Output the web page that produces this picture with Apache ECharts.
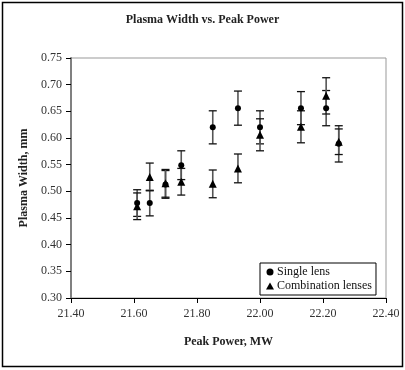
<!DOCTYPE html>
<html>
<head>
<meta charset="utf-8">
<script src="https://cdn.jsdelivr.net/npm/echarts@6/dist/echarts.min.js"></script>
<style>
  html, body { margin: 0; padding: 0; background: #fff; }
  #chart { width: 405px; height: 370px; }
</style>
</head>
<body>
<div id="chart"></div>
<script>
// peak power, MW
var power = [21.61, 21.65, 21.70, 21.75, 21.85, 21.93, 22.00, 22.13, 22.21, 22.25];
// plasma width, mm (single lens) and its error
var singleLens = [0.478, 0.478, 0.513, 0.549, 0.620, 0.656, 0.620, 0.656, 0.656, 0.589];
var singleErr = [0.025, 0.024, 0.026, 0.027, 0.031, 0.032, 0.031, 0.031, 0.033, 0.034];
// plasma width, mm (combination lenses) and its error
var comboLens = [0.472, 0.527, 0.515, 0.518, 0.514, 0.543, 0.606, 0.621, 0.679, 0.593];
var comboErr = [0.025, 0.026, 0.026, 0.025, 0.026, 0.027, 0.030, 0.030, 0.034, 0.024];

var serif = '"Liberation Serif", "DejaVu Serif", serif';

var chart = echarts.init(document.getElementById('chart'));

function points(ys) {
    return power.map(function (x, i) { return [x, ys[i]]; });
}
function errRows(ys, errs) {
    return power.map(function (x, i) { return [x, ys[i] - errs[i], ys[i] + errs[i]]; });
}

// draws a vertical error bar with caps
function renderErr(params, api) {
    var lo = api.coord([api.value(0), api.value(1)]);
    var hi = api.coord([api.value(0), api.value(2)]);
    var w = 4;
    return {
        type: 'group',
        children: [
            { type: 'line', shape: { x1: lo[0], y1: lo[1], x2: hi[0], y2: hi[1] },
              style: { stroke: '#555', lineWidth: 1.6 } },
            { type: 'line', shape: { x1: lo[0] - w, y1: lo[1], x2: lo[0] + w, y2: lo[1] },
              style: { stroke: '#111', lineWidth: 1.3 } },
            { type: 'line', shape: { x1: hi[0] - w, y1: hi[1], x2: hi[0] + w, y2: hi[1] },
              style: { stroke: '#111', lineWidth: 1.3 } }
        ]
    };
}

var option = {
    animation: false,
    backgroundColor: '#fff',
    title: {
        text: 'Plasma Width vs. Peak Power',
        left: 'center',
        top: 9,
        textStyle: { fontFamily: serif, fontSize: 12, fontWeight: 'bold', color: '#222' }
    },
    grid: {
        left: 71, right: 19, top: 58, bottom: 72,
        show: true, borderColor: '#999', borderWidth: 1
    },
    xAxis: {
        type: 'value',
        min: 21.4, max: 22.4, interval: 0.2,
        name: 'Peak Power, MW',
        nameLocation: 'middle',
        nameGap: 38,
        nameTextStyle: { fontFamily: serif, fontSize: 12, fontWeight: 'bold', color: '#222' },
        axisLine: { lineStyle: { color: '#000', width: 1 } },
        axisTick: { show: true, inside: false, length: 5, lineStyle: { color: '#000' } },
        axisLabel: {
            fontFamily: serif, fontSize: 12, color: '#333', margin: 10,
            formatter: function (v) { return v.toFixed(2); }
        },
        splitLine: { show: false }
    },
    yAxis: {
        type: 'value',
        min: 0.3, max: 0.75, interval: 0.05,
        name: 'Plasma Width, mm',
        nameLocation: 'middle',
        nameGap: 38,
        nameTextStyle: { fontFamily: serif, fontSize: 12, fontWeight: 'bold', color: '#222' },
        axisLine: { show: true, lineStyle: { color: '#808080', width: 2 } },
        axisTick: { show: true, inside: false, length: 5, lineStyle: { color: '#000' } },
        axisLabel: {
            fontFamily: serif, fontSize: 12, color: '#333', margin: 9,
            formatter: function (v) { return v.toFixed(2); }
        },
        splitLine: { show: false }
    },
    legend: {
        orient: 'vertical',
        left: 260, top: 263,
        width: 117,
        padding: [3, 4, 3, 6],
        itemGap: 2,
        itemWidth: 8, itemHeight: 7,
        borderColor: '#000', borderWidth: 1,
        backgroundColor: '#fff',
        textStyle: { fontFamily: serif, fontSize: 12, color: '#111', padding: [0, 0, 0, -2] },
        data: [
            { name: 'Single lens', icon: 'circle' },
            { name: 'Combination lenses', icon: 'triangle' }
        ]
    },
    series: [
        {
            name: 'singleErr', type: 'custom', renderItem: renderErr,
            data: errRows(singleLens, singleErr), silent: true, z: 2
        },
        {
            name: 'comboErr', type: 'custom', renderItem: renderErr,
            data: errRows(comboLens, comboErr), silent: true, z: 2
        },
        {
            name: 'Single lens', type: 'scatter', symbol: 'circle', symbolSize: 6,
            itemStyle: { color: '#000', opacity: 1 }, data: points(singleLens), z: 3
        },
        {
            name: 'Combination lenses', type: 'scatter', symbol: 'triangle', symbolSize: 8,
            itemStyle: { color: '#000', opacity: 1 }, data: points(comboLens), z: 4
        }
    ],
    graphic: [
        {
            type: 'rect',
            shape: { x: 2.5, y: 2.5, width: 400, height: 364 },
            style: { fill: 'none', stroke: '#000', lineWidth: 1.5 },
            silent: true
        }
    ]
};

chart.setOption(option);
</script>
</body>
</html>
